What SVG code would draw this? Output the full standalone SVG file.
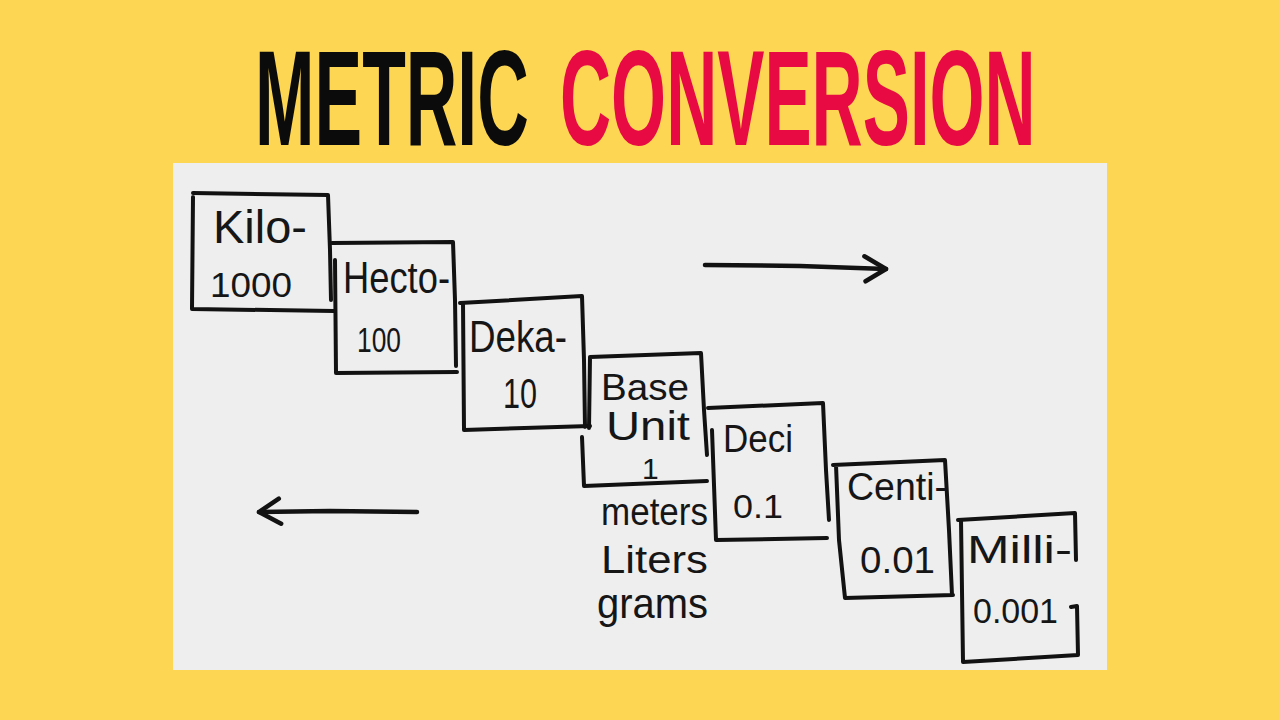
<svg xmlns="http://www.w3.org/2000/svg" width="1280" height="720" viewBox="0 0 1280 720">
  <defs>
    <style>
      .title { font-family: "Liberation Sans", Arial, sans-serif; font-weight: bold; font-size: 135px; }
      .hw { font-family: "Liberation Sans", Arial, sans-serif; fill: #161616; }
      .edge { fill: none; stroke: #121212; stroke-width: 4; stroke-linecap: round; stroke-linejoin: round; }
      .arrow { fill: none; stroke: #121212; stroke-width: 4.5; stroke-linecap: round; stroke-linejoin: round; }
    </style>
    <marker id="head" markerUnits="userSpaceOnUse" markerWidth="40" markerHeight="40" viewBox="-30 -20 40 40" refX="0" refY="0" orient="auto">
      <path d="M-22,-12 L0,0 L-20,13" fill="none" stroke="#121212" stroke-width="4.5" stroke-linecap="round" stroke-linejoin="round"/>
    </marker>
  </defs>

  <rect x="0" y="0" width="1280" height="720" fill="#FDD653"/>

  <g id="title">
    <text class="title" transform="translate(255,145) scale(0.5295,1)" x="0" y="0" fill="#0b0b0b" textLength="517" lengthAdjust="spacingAndGlyphs">METRIC</text>
    <text class="title" transform="translate(560,145) scale(0.5245,1)" x="0" y="0" fill="#E80A43" textLength="907" lengthAdjust="spacingAndGlyphs">CONVERSION</text>
  </g>

  <rect id="paper" x="173" y="163" width="934" height="507" fill="#EEEEEF"/>

  <g id="node-kilo">
    <path class="edge" d="M193,197 L192,309 L334,311 M193,193 L328,195 L330,250 L331,300"/>
    <text class="hw" x="213" y="243" font-size="46" textLength="94" lengthAdjust="spacingAndGlyphs">Kilo-</text>
    <text class="hw" x="210" y="297" font-size="35" textLength="82" lengthAdjust="spacingAndGlyphs">1000</text>
  </g>

  <g id="node-hecto">
    <path class="edge" d="M332,243 L453,242 L455,300 L456,366 M335,260 L336,373 L457,372"/>
    <text class="hw" x="343" y="293" font-size="44" textLength="107" lengthAdjust="spacingAndGlyphs">Hecto-</text>
    <text class="hw" x="357" y="352" font-size="35" textLength="44" lengthAdjust="spacingAndGlyphs">100</text>
  </g>

  <g id="node-deka">
    <path class="edge" d="M460,303 L582,296 L584,360 L585,427 M463,303 L464,430 L590,426"/>
    <text class="hw" x="469" y="352" font-size="44" textLength="98" lengthAdjust="spacingAndGlyphs">Deka-</text>
    <text class="hw" x="503" y="408" font-size="42" textLength="34" lengthAdjust="spacingAndGlyphs">10</text>
  </g>

  <g id="node-base">
    <path class="edge" d="M590,357 L701,353 L704,410 L707,455 M590,357 L589,428 M582,437 L584,486 L707,481"/>
    <text class="hw" x="601" y="400" font-size="37" textLength="88" lengthAdjust="spacingAndGlyphs">Base</text>
    <text class="hw" x="606" y="440" font-size="40" textLength="84" lengthAdjust="spacingAndGlyphs">Unit</text>
    <text class="hw" x="642" y="479" font-size="30">1</text>
    <text class="hw" x="601" y="525" font-size="38" textLength="107" lengthAdjust="spacingAndGlyphs">meters</text>
    <text class="hw" x="601" y="573" font-size="39" textLength="107" lengthAdjust="spacingAndGlyphs">Liters</text>
    <text class="hw" x="597" y="618" font-size="42" textLength="111" lengthAdjust="spacingAndGlyphs">grams</text>
  </g>

  <g id="node-deci">
    <path class="edge" d="M708,408 L823,403 L826,470 L829,520 M712,430 L716,540 L827,538"/>
    <text class="hw" x="723" y="452" font-size="38" textLength="70" lengthAdjust="spacingAndGlyphs">Deci</text>
    <text class="hw" x="733" y="518" font-size="33" textLength="50" lengthAdjust="spacingAndGlyphs">0.1</text>
  </g>

  <g id="node-centi">
    <path class="edge" d="M833,465 L945,460 L949,530 L952,595 M836,465 L839,540 L845,598 L953,595"/>
    <text class="hw" x="847" y="500" font-size="39" textLength="100" lengthAdjust="spacingAndGlyphs">Centi-</text>
    <text class="hw" x="860" y="573" font-size="36" textLength="75" lengthAdjust="spacingAndGlyphs">0.01</text>
  </g>

  <g id="node-milli">
    <path class="edge" d="M958,520 L1075,513 L1076,560 M1071,607 L1077,606 L1078,655 L963,662 L961,520"/>
    <text class="hw" x="967" y="563" font-size="39" textLength="105" lengthAdjust="spacingAndGlyphs">Milli-</text>
    <text class="hw" x="973" y="623" font-size="35" textLength="85" lengthAdjust="spacingAndGlyphs">0.001</text>
  </g>

  <g id="connectors">
    <path class="arrow" d="M705,265 L800,266 L886,269" marker-end="url(#head)"/>
    <path class="arrow" d="M417,512 L330,511 L259,512" marker-end="url(#head)"/>
  </g>
</svg>
